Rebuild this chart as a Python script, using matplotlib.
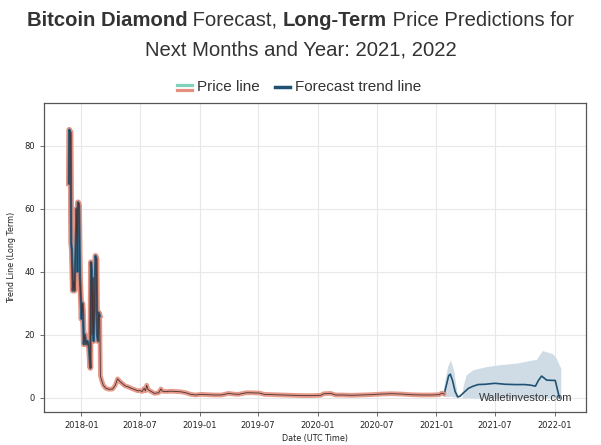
import matplotlib
matplotlib.use("Agg")
import matplotlib.pyplot as plt
import matplotlib.dates as mdates
from matplotlib.lines import Line2D
import pandas as pd

# historical price
price_dates = [
    "2017-11-24", "2017-11-25", "2017-11-29", "2017-12-01", "2017-12-03", "2017-12-06",
    "2017-12-09", "2017-12-11", "2017-12-14", "2017-12-18", "2017-12-20", "2017-12-22",
    "2017-12-25", "2017-12-28", "2017-12-31", "2018-01-02", "2018-01-04", "2018-01-06",
    "2018-01-09", "2018-01-12", "2018-01-16", "2018-01-20", "2018-01-25", "2018-01-29",
    "2018-01-31", "2018-02-02", "2018-02-04", "2018-02-06", "2018-02-08", "2018-02-11",
    "2018-02-14", "2018-02-17", "2018-02-19", "2018-02-22", "2018-02-24", "2018-02-27",
    "2018-03-01", "2018-03-05", "2018-03-10", "2018-03-18", "2018-03-28", "2018-04-08",
    "2018-04-16", "2018-04-23", "2018-04-30", "2018-05-08", "2018-05-16", "2018-05-25",
    "2018-06-05", "2018-06-15", "2018-06-25", "2018-07-01", "2018-07-08", "2018-07-14",
    "2018-07-18", "2018-07-22", "2018-07-26", "2018-08-05", "2018-08-15", "2018-08-28",
    "2018-09-04", "2018-09-08", "2018-09-20", "2018-10-05", "2018-10-20", "2018-11-05",
    "2018-11-20", "2018-12-05", "2018-12-20", "2019-01-05", "2019-01-25", "2019-02-15",
    "2019-03-10", "2019-04-01", "2019-04-15", "2019-05-01", "2019-05-25", "2019-06-10",
    "2019-07-05", "2019-07-20", "2019-08-15", "2019-09-15", "2019-10-15", "2019-11-15",
    "2019-12-15", "2020-01-10", "2020-01-20", "2020-02-10", "2020-02-25", "2020-03-15",
    "2020-04-15", "2020-05-15", "2020-06-15", "2020-07-15", "2020-08-15", "2020-09-15",
    "2020-10-15", "2020-11-15", "2020-12-15", "2021-01-10", "2021-01-18", "2021-01-25",
]
price_values = [
    68, 85, 84, 49, 47, 34,
    37, 34, 45, 60, 40, 62,
    61, 38, 31, 25, 30, 28,
    17, 20, 17, 18, 16, 9.5,
    43, 40, 20, 38, 18, 30,
    45, 44, 20, 18, 27, 26,
    7, 5.5, 4, 3, 2.7, 2.8,
    4, 6, 5.2, 4.5, 3.8, 3.5,
    3, 2.6, 2.2, 2.3, 2.0, 3.0,
    2.2, 4.0, 2.6, 2.0, 1.4, 1.6,
    2.8, 2.1, 2.0, 2.1, 2.0, 1.9,
    1.6, 1.1, 0.9, 1.1, 1.0, 0.9,
    0.9, 1.4, 1.2, 1.1, 1.6, 1.6,
    1.5, 1.1, 1.0, 0.9, 0.8, 0.7,
    0.7, 0.8, 1.3, 1.4, 0.9, 0.9,
    0.8, 0.9, 1.0, 1.2, 1.3, 1.2,
    1.0, 0.9, 0.9, 1.0, 1.5, 1.2,
]

# forecast trend line
fc_dates = [
    "2021-01-25", "2021-02-01", "2021-02-08", "2021-02-13", "2021-02-20", "2021-02-28",
    "2021-03-08", "2021-03-15", "2021-03-25", "2021-04-10", "2021-04-25", "2021-05-10",
    "2021-06-01", "2021-07-01", "2021-08-01", "2021-09-01", "2021-10-01", "2021-10-20",
    "2021-11-03", "2021-11-12", "2021-11-22", "2021-12-08", "2022-01-03", "2022-01-10",
    "2022-01-16",
]
fc_values = [
    1.0, 4.0, 7.0, 7.5, 5.5, 2.0,
    0.3, 0.5, 1.5, 3.0, 3.7, 4.2,
    4.3, 4.6, 4.3, 4.2, 4.2, 4.0,
    3.7, 5.5, 6.9, 5.6, 5.5, 2.5,
    0.0,
]

# forecast band
band_dates = [
    "2021-01-22", "2021-02-05", "2021-02-14", "2021-02-24", "2021-03-06", "2021-03-12",
    "2021-03-22", "2021-03-24", "2021-04-03", "2021-04-24", "2021-06-04", "2021-07-15",
    "2021-09-04", "2021-10-25", "2021-11-06", "2021-11-24", "2021-12-25", "2022-01-04",
    "2022-01-20",
]
band_upper = [
    2.7, 10.0, 12.0, 8.5, 1.4, 0.0,
    0.0, 3.5, 7.3, 8.9, 9.9, 10.5,
    11.0, 12.0, 12.2, 15.0, 14.0, 13.0,
    9.4,
]
band_lower = [
    0.5, 0.3, 0.5, 0.3, 0.0, 0.0,
    0.0, 0.0, 0.0, 0.0, 0.0, 0.0,
    0.0, 0.0, 0.0, 0.0, 0.0, 0.0,
    0.0,
]

SALMON = "#e3907f"
DARK = "#4a3232"
BODY = "#2e6385"
FC = "#1f5272"
BAND = "#cfdce6"
TXT = "#333333"

pd_price = pd.to_datetime(price_dates)
pd_fc = pd.to_datetime(fc_dates)
pd_band = pd.to_datetime(band_dates)

fig = plt.figure(figsize=(6.01, 4.45), dpi=100)
ax = fig.add_axes([44 / 601, 1 - 412 / 445, 542 / 601, 309 / 445])

ax.fill_between(pd_band, band_lower, band_upper, color=BAND, lw=0, zorder=2)
ax.plot(pd_fc, fc_values, color=FC, lw=1.2, zorder=3)

ax.plot(pd_price, price_values, color=SALMON, lw=3.4, alpha=0.9,
        solid_joinstyle="round", solid_capstyle="round", zorder=4)
early = pd_price < pd.Timestamp("2018-03-01")
early_vals = [v for v, e in zip(price_values, early) if e]
ax.plot(pd_price[early], early_vals, color=SALMON, lw=4.2, alpha=0.9,
        solid_joinstyle="round", zorder=4)
ax.plot(pd_price[early], early_vals, color=BODY, lw=1.8, solid_joinstyle="round", zorder=5)
ax.plot(pd_price, price_values, color=DARK, lw=0.6, zorder=6)

ax.set_xlim(pd.Timestamp("2017-09-08"), pd.Timestamp("2022-04-08"))
ax.set_ylim(-4.5, 93.5)
ax.set_yticks([0, 20, 40, 60, 80])
ax.xaxis.set_major_locator(mdates.MonthLocator(bymonth=[1, 7]))
ax.xaxis.set_major_formatter(mdates.DateFormatter("%Y-%m"))
ax.tick_params(labelsize=6, length=3, width=0.6, color="#555555", labelcolor="#222222")
ax.grid(True, color="#e8e8e8", lw=0.8)
ax.set_axisbelow(True)
for s in ax.spines.values():
    s.set_color("#555555")
    s.set_linewidth(0.9)
ax.set_ylabel("Trend Line (Long Term)", fontsize=5.8, color="#222222", labelpad=6)
ax.set_xlabel("Date (UTC Time)", fontsize=5.8, color="#222222", labelpad=3)

ax.text(0.975, 0.03, "Walletinvestor.com", transform=ax.transAxes, ha="right",
        va="bottom", fontsize=8, color="#333333", family="Liberation Sans", zorder=7)

# title with bold pieces
fig.canvas.draw()
renderer = fig.canvas.get_renderer()
FS = 14.6


def draw_line(pieces, y):
    widths = []
    for s, bold in pieces:
        t = fig.text(0, 0, s, fontsize=FS, family="Liberation Sans",
                     fontweight="bold" if bold else "normal")
        widths.append(t.get_window_extent(renderer).width)
        t.remove()
    total = sum(widths)
    x = (601 - total) / 2
    for (s, bold), w in zip(pieces, widths):
        fig.text(x / 601, y, s, fontsize=FS, family="Liberation Sans", color=TXT,
                 fontweight="bold" if bold else "normal", va="center", ha="left")
        x += w


draw_line([("Bitcoin Diamond", True), (" Forecast, ", False), ("Long-Term", True),
           (" Price Predictions for", False)], 1 - 20 / 445)
draw_line([("Next Months and Year: 2021, 2022", False)], 1 - 50 / 445)

# legend
ly = 1 - 87 / 445
fig.add_artist(Line2D([177 / 601, 192 / 601], [ly + 2.5 / 445] * 2, color="#7fd1b9", lw=2.3))
fig.add_artist(Line2D([177 / 601, 192 / 601], [ly - 2.5 / 445] * 2, color=SALMON, lw=2.3))
fig.text(197 / 601, ly, "Price line", fontsize=11, family="Liberation Sans", color=TXT,
         va="center")
fig.add_artist(Line2D([275 / 601, 290 / 601], [ly] * 2, color=FC, lw=2.5))
fig.text(295 / 601, ly, "Forecast trend line", fontsize=11, family="Liberation Sans",
         color=TXT, va="center")

fig.savefig("out.png", dpi=100)
